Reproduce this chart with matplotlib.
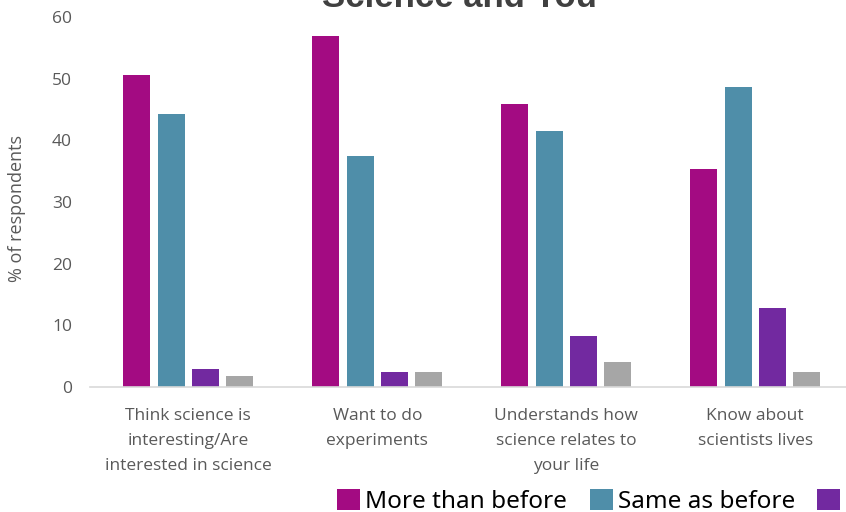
import matplotlib.pyplot as plt
import numpy as np

categories = ["Think science is\ninteresting/Are\ninterested in science",
              "Want to do\nexperiments",
              "Understands how\nscience relates to\nyour life",
              "Know about\nscientists lives"]
more_than_before = [50.6, 56.9, 45.9, 35.4]
same_as_before = [44.2, 37.4, 41.5, 48.6]
less_than_before = [3.0, 2.5, 8.2, 12.8]
dont_know = [1.8, 2.5, 4.0, 2.5]

series = {
    "More than before": (more_than_before, "#A30B82"),
    "Same as before": (same_as_before, "#4F8EA9"),
    "Less than before": (less_than_before, "#7229A0"),
    "Don't know": (dont_know, "#A6A6A6"),
}

fig = plt.figure(figsize=(8.46, 5.12), dpi=100)
ax = fig.add_axes([90 / 846, 125 / 512, 756 / 846, 370 / 512])

x = np.arange(len(categories))
pitch = 0.182
width = 0.143
handles = []
for i, (name, (vals, col)) in enumerate(series.items()):
    b = ax.bar(x + (i - 1.5) * pitch, vals, width, color=col, label=name)
    handles.append(b)

ax.set_xlim(-0.52, 3.48)
ax.set_ylim(0, 60)
ax.set_yticks(range(0, 61, 10))
ax.set_xticks(x)
ax.set_xticklabels(categories, fontsize=12.5, color="#595959",
                   family="Open Sans", linespacing=1.75)
ax.tick_params(axis="x", length=0, pad=15)
ax.tick_params(axis="y", length=0, pad=13, labelsize=12.5, labelcolor="#595959")
for lab in ax.get_yticklabels():
    lab.set_family("Open Sans")

for s in ["top", "right", "left"]:
    ax.spines[s].set_visible(False)
ax.spines["bottom"].set_color("#D9D9D9")
ax.spines["bottom"].set_linewidth(1.2)

fig.text(17 / 846, 1 - 208 / 512, "% of respondents", rotation=90,
         ha="center", va="center", fontsize=13, color="#595959",
         family="Open Sans")

fig.text(459 / 846, 1 - 7 / 512, "Science and You", ha="center",
         va="baseline", fontsize=25, fontweight="bold", color="#404040",
         family="Liberation Sans")

fig.legend(handles=handles, loc="upper left",
           bbox_to_anchor=(325 / 846, 1 - 477 / 512), ncol=4,
           frameon=False, handlelength=0.95, handleheight=0.95,
           handletextpad=0.2, columnspacing=0.93, borderpad=0,
           prop={"family": "Noto Sans", "size": 17.5})

fig.savefig("out.png", dpi=100)
